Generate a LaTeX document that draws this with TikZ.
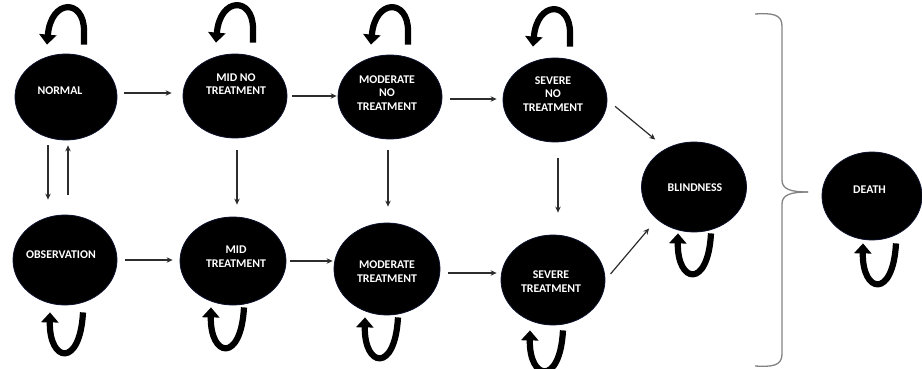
\documentclass[tikz,border=0pt]{standalone}
\usepackage{fontspec}
\setmainfont{Carlito}
\usetikzlibrary{shapes.geometric,arrows.meta,calc}
\definecolor{arr}{RGB}{45,45,45}
\definecolor{navy}{RGB}{12,18,45}
\definecolor{bracegray}{RGB}{130,130,130}
\begin{document}
\begin{tikzpicture}[x=1pt,y=-1pt,
  st/.style={ellipse, fill=black, draw=navy, line width=0.8pt, inner sep=0pt},
  lbl/.style={text=white, font=\fontsize{11.8}{13.5}\selectfont\bfseries, align=center, inner sep=0pt},
  con/.style={draw=arr, line width=1.2pt, -{Stealth[length=6pt,width=5.5pt]}},
  loopline/.style={line width=6.2pt, draw=black, -{Triangle[length=10pt,width=17pt]}},
  toploop/.pic={\draw[loopline] (17,0) -- (17,-14) .. controls (17,-46) and (-16,-46) .. (-20,0);},
  botloop/.pic={\draw[loopline] (17,0) .. controls (14,56) and (-17,50) .. (-16,0);},
  brace/.style={draw=bracegray, line width=1.3pt}
]
\useasboundingbox (0,0) rectangle (922,369);

% states
\node[st, minimum width=102pt, minimum height=86pt] (normal) at (66,97) {};
\node[st, minimum width=104pt, minimum height=84pt] (midno) at (235,96) {};
\node[st, minimum width=104pt, minimum height=84pt] (modno) at (390,97) {};
\node[st, minimum width=104pt, minimum height=84pt] (sevno) at (555,100) {};
\node[st, minimum width=104pt, minimum height=90pt] (obs) at (65,260) {};
\node[st, minimum width=106pt, minimum height=88pt] (midt) at (233,261) {};
\node[st, minimum width=106pt, minimum height=92pt] (modt) at (387,269) {};
\node[st, minimum width=104pt, minimum height=90pt] (sevt) at (553,280) {};
\node[st, minimum width=105pt, minimum height=90pt] (blind) at (694,187) {};
\node[st, minimum width=100pt, minimum height=88pt] (death) at (872,196) {};

% texts
\node[lbl] (normalt) at ($(normal)+(-6,-6)$) {NORMAL};
\node[lbl] (midnot) at ($(midno)+(1,-12)$) {MID NO\\TREATMENT};
\node[lbl] (modnot) at ($(modno)+(-3,-4)$) {MODERATE\\NO\\TREATMENT};
\node[lbl] (sevnot) at ($(sevno)+(-2,-6)$) {SEVERE\\NO\\TREATMENT};
\node[lbl] (obst) at ($(obs)+(-4,-5)$) {OBSERVATION};
\node[lbl] (midtt) at ($(midt)+(3,-4.5)$) {MID\\TREATMENT};
\node[lbl] (modtt) at ($(modt)+(0,2.5)$) {MODERATE\\TREATMENT};
\node[lbl] (sevtt) at ($(sevt)+(-2,1.5)$) {SEVERE\\TREATMENT};
\node[lbl] (blindt) at ($(blind)+(1,1)$) {BLINDNESS};
\node[lbl] (deatht) at ($(death)+(-2.5,-6)$) {DEATH};

% horizontal transitions
\draw[con, shorten <=7pt, shorten >=11pt] ($(normal.east)+(0,-4)$) -- ($(normal.east -| midno.west)+(0,-4)$);
\draw[con, shorten <=5pt, shorten >=1pt] (midno.east) -- (midno.east -| modno.west);
\draw[con, shorten <=8pt, shorten >=6pt] ($(modno.east)+(0,2)$) -- ($(modno.east -| sevno.west)+(0,2)$);
\draw[con, shorten <=8pt, shorten >=7pt] (obs.east) -- (obs.east -| midt.west);
\draw[con, shorten <=4pt, shorten >=1pt] (midt.east) -- (midt.east -| modt.west);
\draw[con, shorten <=8pt, shorten >=4pt] ($(modt.east)+(0,4)$) -- ($(modt.east -| sevt.west)+(0,4)$);
\draw[con, shorten <=10pt, shorten >=14pt] (sevno.east) -- (blind.126);
\draw[con, shorten <=8pt, shorten >=12pt] (sevt.east) -- (blind.221);

% vertical transitions
\draw[con, shorten <=5pt, shorten >=15pt] ($(normal.south)+(-18,0)$) -- ($(normal.south |- obs.north)+(-18,0)$);
\draw[con, shorten <=20pt, shorten >=5pt] ($(obs.north)+(3,0)$) -- ($(obs.north |- normal.south)+(3,0)$);
\draw[con, shorten <=12pt, shorten >=12pt] ($(midno.south)+(2,0)$) -- ($(midno.south |- midt.north)+(2,0)$);
\draw[con, shorten <=11pt, shorten >=16pt] ($(modno.south)+(-2,0)$) -- ($(modno.south |- modt.north)+(-2,0)$);
\draw[con, shorten <=16pt, shorten >=22pt] ($(sevno.south)+(3,0)$) -- ($(sevno.south |- sevt.north)+(3,0)$);

% self loops
\pic at ($(normal.north)+(1,-9)$) {toploop};
\pic at ($(midno.north)+(1,-11)$) {toploop};
\pic at ($(modno.north)+(1,-10)$) {toploop};
\pic at ($(sevno.north)+(-2,-11)$) {toploop};
\pic at ($(obs.south)+(1,7)$) {botloop};
\pic at ($(midt.south)+(-6,2)$) {botloop};
\pic at ($(modt.south)+(-6,2)$) {botloop};
\pic at ($(sevt.south)+(-7,5)$) {botloop};
\pic at ($(blind.south)+(0,1)$) {botloop};
\pic at ($(death.south)+(7,3)$) {botloop};

% brace
\draw[brace] (755,14) .. controls (772,13) and (782,14) .. (782,26) -- (782,180) .. controls (782,189) and (790,192) .. (808,192);
\draw[brace] (808,192) .. controls (790,192) and (782,195) .. (782,204) -- (782,354) .. controls (782,366) and (772,367) .. (755,366);
\end{tikzpicture}
\end{document}
